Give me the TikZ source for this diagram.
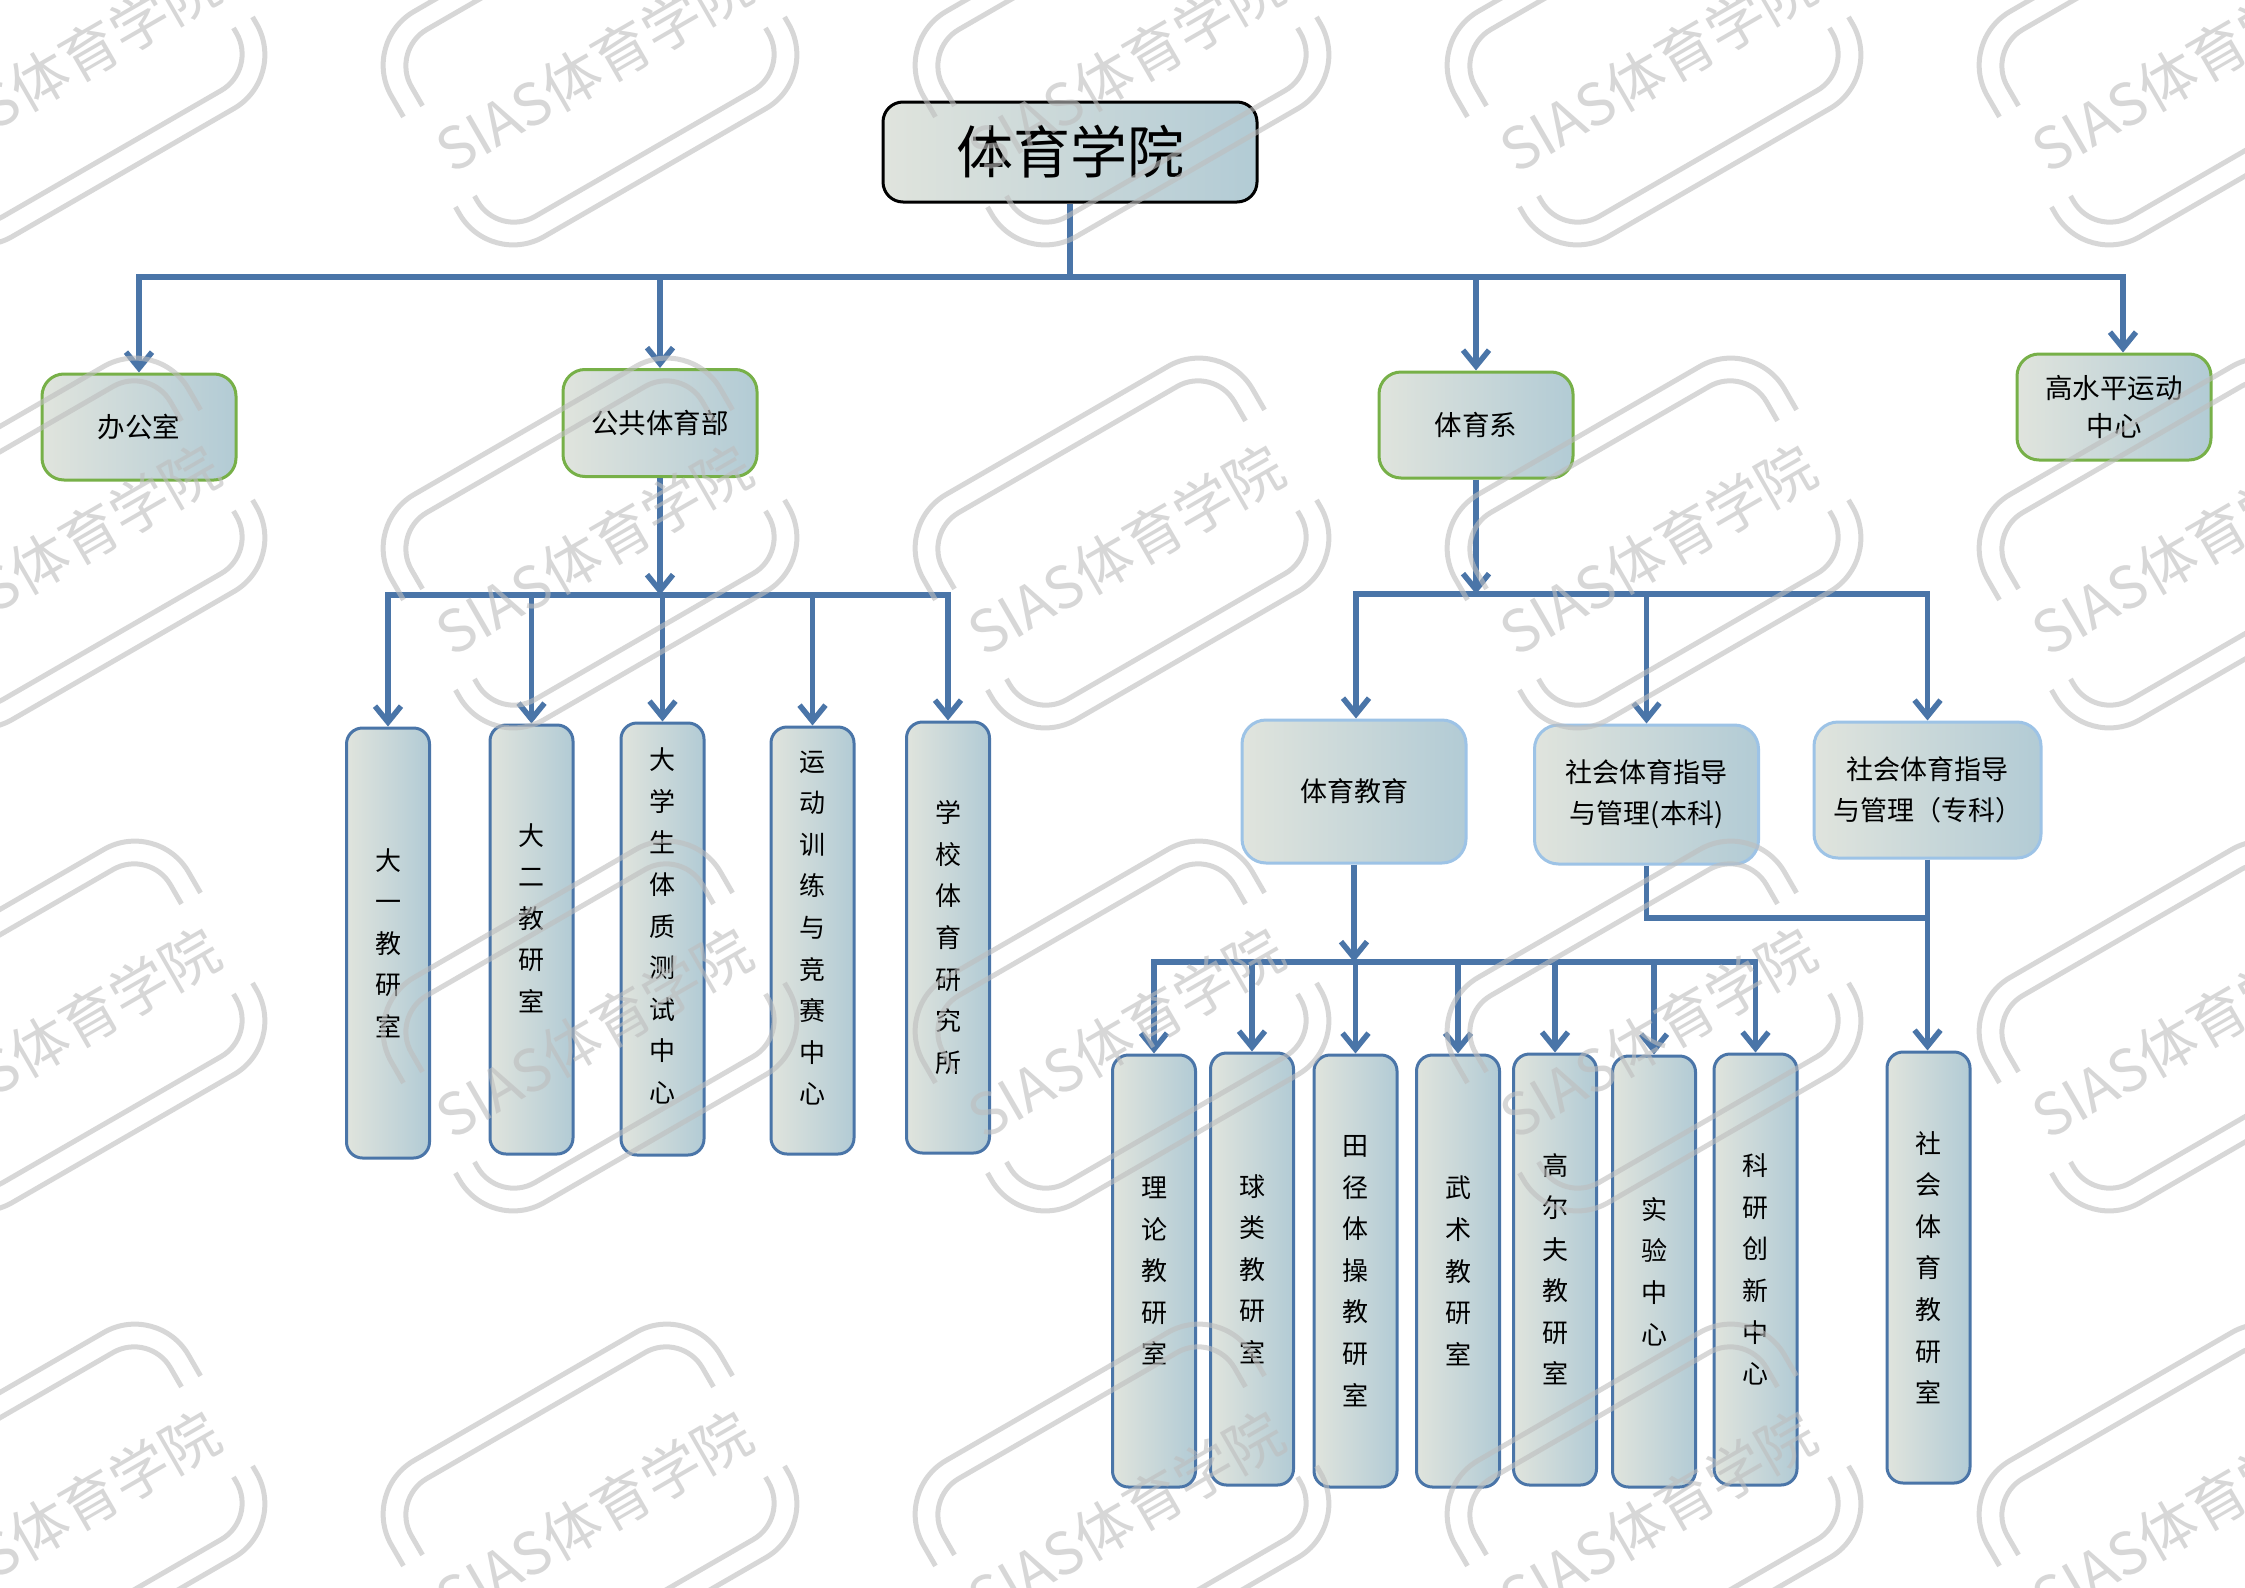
\documentclass[tikz,border=0pt]{standalone}
\usepackage{fontspec}
\newfontfamily\cjk{Noto Sans CJK SC}
\usetikzlibrary{arrows.meta}
\definecolor{conn}{HTML}{4A75A8}
\definecolor{fillL}{HTML}{E0E4DD}
\definecolor{fillR}{HTML}{B2CBD5}
\definecolor{greenb}{HTML}{77B048}
\definecolor{lblue}{HTML}{9DC3E6}
\definecolor{wm}{HTML}{BDBDBD}
\begin{document}
\begin{tikzpicture}[x=1pt,y=-1pt,
  box/.style={draw, line width=3pt, left color=fillL, right color=fillR, inner sep=0pt, align=center, text=black, font=\cjk\fontsize{27.5}{38}\selectfont},
  topbox/.style={box, draw=black, rounded corners=20pt, minimum width=374pt, minimum height=100pt, font=\cjk\fontsize{57}{60}\selectfont},
  lvtwo/.style={box, draw=greenb, rounded corners=22pt, minimum width=194pt, minimum height=106pt},
  lvthree/.style={box, draw=lblue, rounded corners=24pt, minimum width=224pt, font=\cjk\fontsize{27}{41}\selectfont},
  vbox/.style={box, draw=conn, rounded corners=16pt, minimum width=83pt, font=\cjk\fontsize{26}{41.6}\selectfont},
  vtext/.style={align=center, inner sep=0pt, text=black, font=\cjk\fontsize{26}{41.6}\selectfont},
  link/.style={draw=conn, line width=5.5pt},
  bus/.style={link, line cap=rect},
  arr/.style={link, -{Straight Barb[length=16pt,width=26pt]}},
  wmline/.style={draw=wm, line width=5pt, opacity=0.6},
  wmtext/.style={text=wm, opacity=0.6, font=\cjk\fontsize{58}{60}\selectfont, rotate=30, inner sep=0pt}
]
\fill[white] (0,0) rectangle (2245,1587);
\useasboundingbox (0,0) rectangle (2245,1587);

% ---- level 0 / 1
\node[topbox] (top) at (1070,152) {体育学院};
\node[lvtwo] (bgs) at (139,427) {办公室};
\node[lvtwo, minimum height=107pt] (ggtyb) at (660,423) {公共体育部};
\node[lvtwo] (tyx) at (1476,425) {体育系};
\node[lvtwo] (gsp) at (2114,407) {高水平运动\\中心};

% ---- children of 公共体育部
\node[vbox, minimum height=430pt] (d1) at (388,943) {};
\node[vbox, minimum height=429pt] (d2) at (531.5,939.5) {};
\node[vbox, minimum height=432pt] (d3) at (662.5,939) {};
\node[vbox, minimum height=427pt] (d4) at (812.5,940.5) {};
\node[vbox, minimum height=431pt] (d5) at (948,937.5) {};
\node[vtext] (d1t) at (388,943) {大\\一\\教\\研\\室};
\node[vtext] (d2t) at (531.5,918) {大\\二\\教\\研\\室};
\node[vtext] (d3t) at (662.5,926) {大\\学\\生\\体\\质\\测\\试\\中\\心};
\node[vtext] (d4t) at (812.5,928) {运\\动\\训\\练\\与\\竞\\赛\\中\\心};
\node[vtext] (d5t) at (948,937.5) {学\\校\\体\\育\\研\\究\\所};

% ---- children of 体育系
\node[lvthree, minimum height=143pt] (jy) at (1354,791.5) {体育教育};
\node[lvthree, minimum height=139pt] (bk) at (1646.5,794.5) {社会体育指导\\与管理(本科)};
\node[lvthree, minimum height=136pt, minimum width=227pt] (zk) at (1927.5,790) {社会体育指导\\与管理（专科）};

% ---- children of 体育教育
\node[vbox, minimum height=432pt] (l1) at (1154,1271) {理\\论\\教\\研\\室};
\node[vbox, minimum height=432pt] (l2) at (1252,1269) {球\\类\\教\\研\\室};
\node[vbox, minimum height=432pt] (l3) at (1355.5,1271) {田\\径\\体\\操\\教\\研\\室};
\node[vbox, minimum height=432pt] (l4) at (1458,1271) {武\\术\\教\\研\\室};
\node[vbox, minimum height=431pt] (l5) at (1555,1269.5) {高\\尔\\夫\\教\\研\\室};
\node[vbox, minimum height=431pt] (l6) at (1654,1271.5) {实\\验\\中\\心};
\node[vbox, minimum height=431pt] (l7) at (1755.5,1269.5) {科\\研\\创\\新\\中\\心};
\node[vbox, minimum height=431pt] (sh) at (1928.5,1267.5) {社\\会\\体\\育\\教\\研\\室};

% ---- connectors, level 1
\coordinate (b1) at (1070,277);
\coordinate (busR) at (2123,277);
\draw[link] (top.south) -- (b1);
\draw[bus] (bgs.north |- b1) -- (busR);
\draw[arr] (bgs.north |- b1) -- (bgs.north);
\draw[arr] (ggtyb.north |- b1) -- (ggtyb.north);
\draw[arr] (tyx.north |- b1) -- (tyx.north);
\draw[arr] (busR) -- (busR |- gsp.north);

% ---- connectors under 公共体育部
\coordinate (b2) at (660,595);
\draw[arr] (ggtyb.south) -- (ggtyb.south |- b2);
\draw[bus] (d1.north |- b2) -- (d5.north |- b2);
\foreach \n in {d1,d2,d3,d4,d5} {\draw[arr] (\n.north |- b2) -- (\n.north);}

% ---- connectors under 体育系
\coordinate (b3) at (1476,594);
\draw[arr] (tyx.south) -- (tyx.south |- b3);
\draw[bus] (1356,594) -- (zk.north |- b3);
\draw[arr] (1356,594) -- (1356,0 |- jy.north);
\draw[arr] (bk.north |- b3) -- (bk.north);
\draw[arr] (zk.north |- b3) -- (zk.north);

% ---- connectors under 体育教育
\coordinate (b4) at (1356,962);
\draw[arr] (jy.south) -- (jy.south |- b4);
\draw[bus] (l1.north |- b4) -- (l7.north |- b4);
\foreach \n in {l1,l2,l3,l4,l5,l6,l7} {\draw[arr] (\n.north |- b4) -- (\n.north);}

% ---- 本科 / 专科 to 社会体育教研室
\coordinate (kj) at (1646.5,918);
\draw[link] (bk.south) -- (kj) -- (zk.south |- kj);
\draw[arr] (zk.south) -- (zk.south |- sh.north);

% ---- watermark
\begin{scope}
\clip (0,0) rectangle (2245,1587);
\foreach \cx in {58,590,1122,1654,2186} {
 \foreach \cy in {60,543,1026,1509} {
  \begin{scope}[shift={(\cx,\cy)}, rotate=30]
   \draw[wmline, rounded corners=62pt] (190,-44) -- (190,-130) -- (-190,-130) -- (-190,-44);
   \draw[wmline, rounded corners=62pt] (-190,60) -- (-190,130) -- (190,130) -- (190,60);
   \draw[wmline, rounded corners=42pt] (168,-44) -- (168,-108) -- (-168,-108) -- (-168,-44);
   \draw[wmline, rounded corners=42pt] (-168,60) -- (-168,108) -- (168,108) -- (168,60);
   \node[wmtext] (wm-\cx-\cy) at (0,8) {SIAS体育学院};
  \end{scope}
 }
}
\end{scope}
\end{tikzpicture}
\end{document}
